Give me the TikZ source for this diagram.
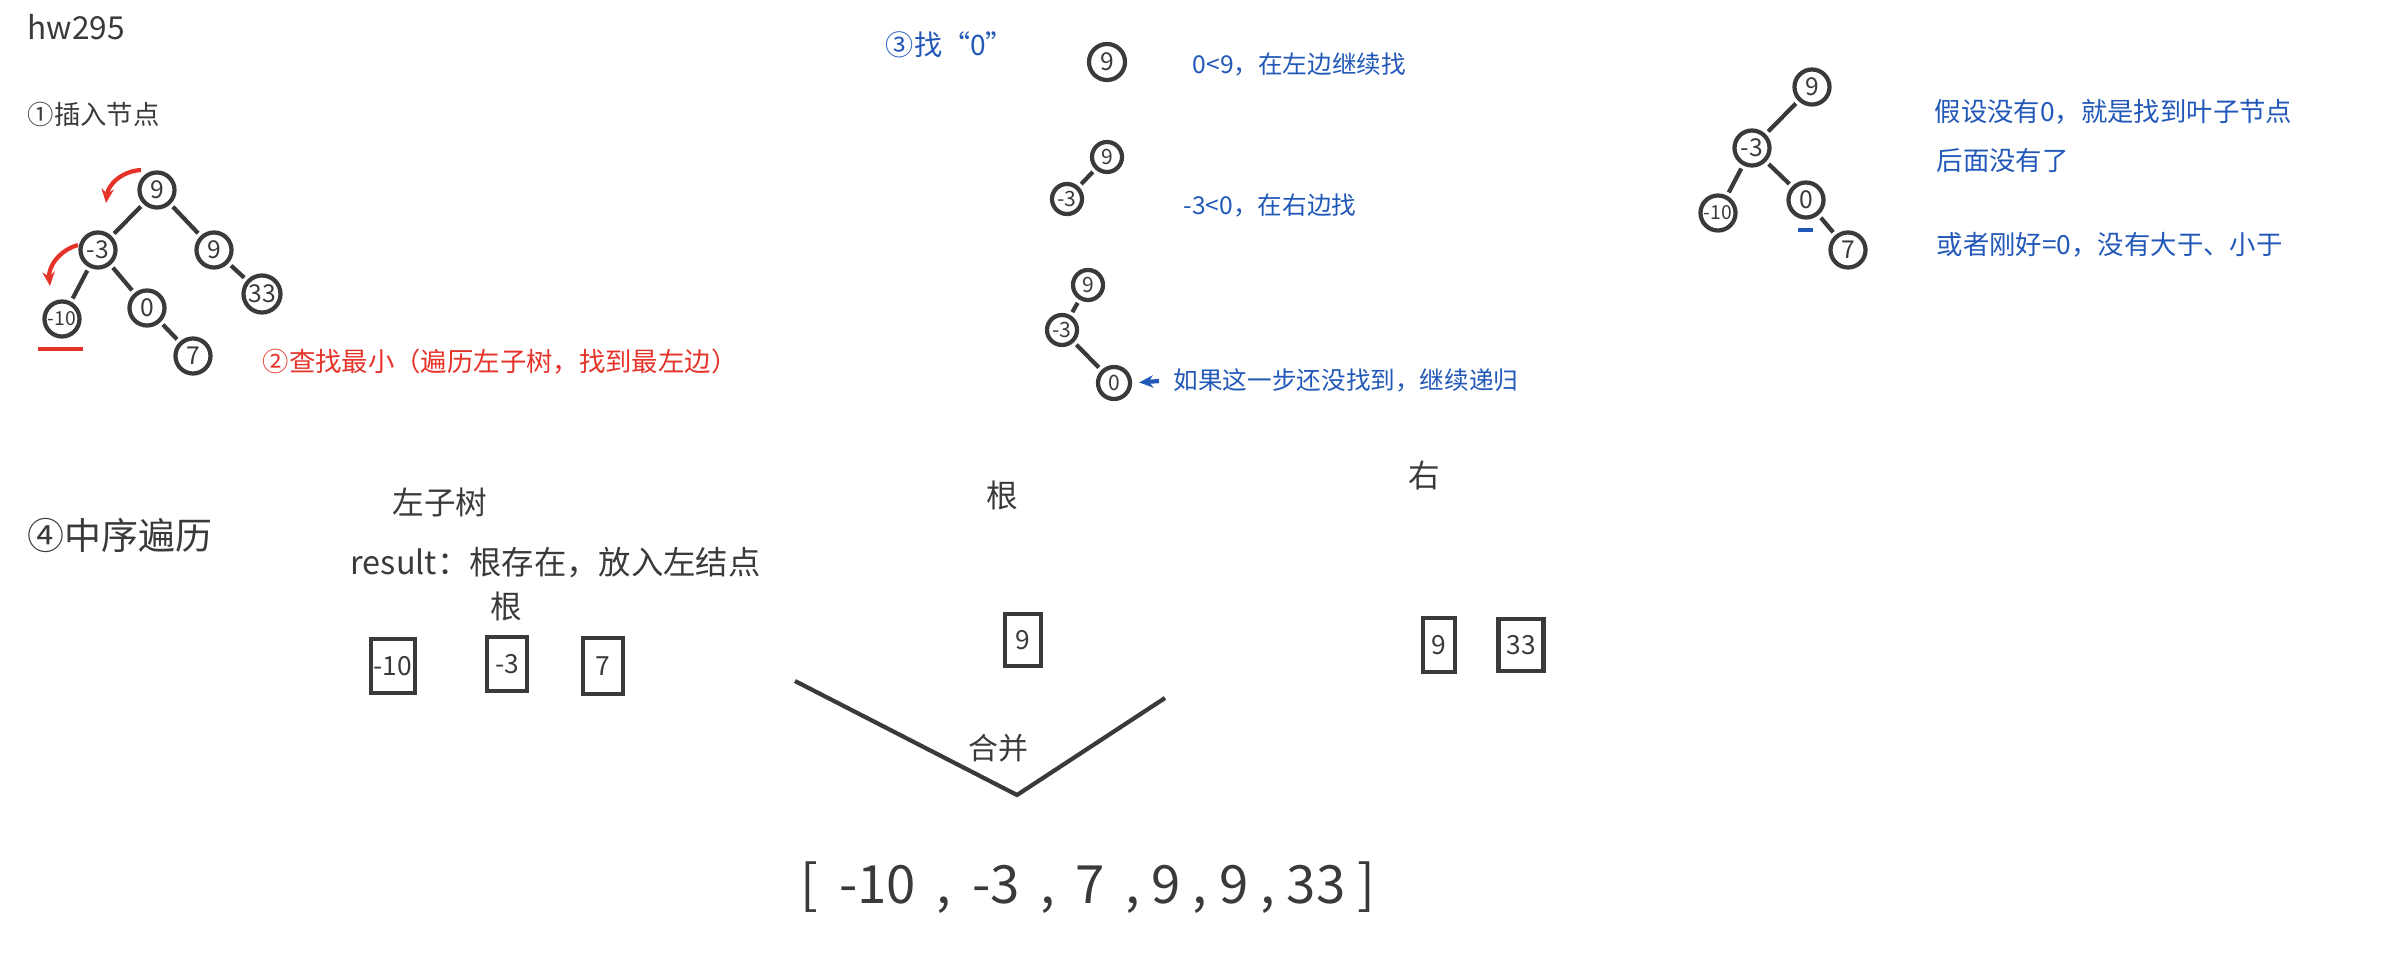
\documentclass[tikz,border=0pt]{standalone}
\usepackage{fontspec}
\setmainfont{Noto Sans CJK SC}
\usetikzlibrary{arrows.meta, positioning}
\definecolor{Ink}  {HTML}{3A3A3A}
\definecolor{InkR} {HTML}{E5332A}
\definecolor{InkB} {HTML}{2258B8}
\tikzset{
  tn/.style={
    circle, draw=Ink, text=Ink, line width=1.2pt,
    minimum size=0.35cm, inner sep=0pt,
    font=\fontsize{7}{7}\selectfont,
  },
  stn/.style={tn, minimum size=0.3cm, font=\fontsize{6}{6}\selectfont},
  sm/.style={font=\fontsize{5.5}{5.5}\selectfont},
  ed/.style={draw=Ink, line width=1.2pt, shorten <=1pt, shorten >=1pt},
  vbox/.style={
    rectangle, draw=Ink, text=Ink, line width=1.2pt,
    inner sep=0pt, font=\fontsize{7.5}{7.5}\selectfont,
  },
  txt/.style args={#1/#2}{
    text=#1, inner sep=0pt, font=\fontsize{#2}{#2}\selectfont,
  },
  arr/.style args={#1}{
    -{Stealth[length=4pt,width=3.5pt]},
    line width=1.2pt, color=#1,
  },
}
\begin{document}
\begin{tikzpicture}[x=0.01cm,y=-0.01cm]
  \useasboundingbox (0,0) rectangle (2388,964);
  \node[txt=Ink/9, anchor=west] (hw) at (27,27) {hw295};
  % 1: insert
  \node[txt=Ink/7.5, anchor=west] (s1) at (27,114) {①插入节点};
  \node[tn] (r1) at (157,190) {9};
  \node[tn] (a1) at ( 98,250) {-3};
  \node[tn] (b1) at (214,250) {9};
  \node[tn, sm] (c1) at ( 62,319) {-10};
  \node[tn] (d1) at (147,308) {0};
  \node[tn, minimum size=0.37cm] (e1) at (262,294) {33};
  \node[tn] (f1) at (193,356) {7};
  \draw[ed] (r1)--(a1);
  \draw[ed] (r1)--(b1);
  \draw[ed] (a1)--(c1);
  \draw[ed] (a1)--(d1);
  \draw[ed] (b1)--(e1);
  \draw[ed] (d1)--(f1);
  % 2: minimum
  \coordinate (ra1) at (141,170);
  \coordinate (rb1) at (106,203);
  \coordinate (ra2) at ( 78,245);
  \coordinate (rb2) at ( 50,286);
  \draw[arr=InkR] (ra1) to[bend right=40] (rb1);
  \draw[arr=InkR] (ra2) to[bend right=40] (rb2);
  \coordinate (ul1) at (38,349);
  \coordinate (ul2) at (83,349);
  \draw[InkR, line width=1.3pt] (ul1)--(ul2);
  \node[txt=InkR/7.5] (s2) at (500,362) {②查找最小（遍历左子树，找到最左边）};
  % 3: find 0
  \node[txt=InkB/8] (s3) at (950,45) {③找“0”};
  \node[tn, minimum size=0.36cm] (p9) at (1107,62) {9};
  \node[txt=InkB/7, anchor=west] (n1) at (1192,64) {0<9，在左边继续找};
  \node[stn] (q9) at (1107,157) {9};
  \node[stn] (q3) at (1067,199) {-3};
  \draw[ed] (q9)--(q3);
  \node[txt=InkB/7, anchor=west] (n2) at (1183,205) {-3<0，在右边找};
  \node[stn] (u9) at (1088,285) {9};
  \node[stn] (u3) at (1062,330) {-3};
  \node[stn, minimum size=0.32cm] (u0) at (1114,383) {0};
  \draw[ed] (u9)--(u3);
  \draw[ed] (u3)--(u0);
  \node[txt=InkB/7, anchor=west] (n3) at (1173,380) {如果这一步还没找到，继续递归};
  \draw[arr=InkB, shorten <=4pt, shorten >=2pt] (n3.west)--(u0.east);
  % right tree
  \node[tn] (v9)  at (1812, 87) {9};
  \node[tn] (v3)  at (1752,148) {-3};
  \node[tn, sm] (v10) at (1718,213) {-10};
  \node[tn] (v0)  at (1806,200) {0};
  \node[tn] (v7)  at (1848,250) {7};
  \draw[ed] (v9)--(v3);
  \draw[ed] (v3)--(v10);
  \draw[ed] (v3)--(v0);
  \draw[ed] (v0)--(v7);
  \coordinate (ub1) at (1798,230);
  \coordinate (ub2) at (1813,230);
  \draw[InkB, line width=1.1pt] (ub1)--(ub2);
  \node[txt=InkB/7.5, anchor=west] (m1) at (1934,112) {假设没有0，就是找到叶子节点};
  \node[txt=InkB/7.5, anchor=west] (m2) at (1936,161) {后面没有了};
  \node[txt=InkB/7.5, anchor=west] (m3) at (1936,245) {或者刚好=0，没有大于、小于};
  % 4: in-order
  \node[txt=Ink/10.5, anchor=west] (s4) at (27,535) {④中序遍历};
  \node[txt=Ink/9] (lt) at (440,502) {左子树};
  \node[txt=Ink/9.2, anchor=west] (res) at (350,563) {result：根存在，放入左结点};
  \node[txt=Ink/9] (lr) at (506,606) {根};
  \node[vbox, minimum width=0.44cm, minimum height=0.54cm] (x10) at (393,666) {-10};
  \node[vbox, minimum width=0.40cm, minimum height=0.54cm] (x3)  at (507,664) {-3};
  \node[vbox, minimum width=0.40cm, minimum height=0.56cm] (x7)  at (603,666) {7};
  \node[txt=Ink/9] (rt) at (1002,495) {根};
  \node[vbox, minimum width=0.36cm, minimum height=0.52cm] (y9)  at (1023,640) {9};
  \node[txt=Ink/9] (rr) at (1424,475) {右};
  \node[vbox, minimum width=0.32cm, minimum height=0.54cm] (z9)  at (1439,645) {9};
  \node[vbox, minimum width=0.45cm, minimum height=0.52cm] (z33) at (1521,645) {33};
  % merge
  \coordinate (vl) at ( 795,681);
  \coordinate (vb) at (1017,795);
  \coordinate (vr) at (1165,698);
  \draw[Ink, line width=1.2pt] (vl)--(vb)--(vr);
  \node[txt=Ink/8.5] (mg) at (998,748) {合并};
  \node[txt=Ink/15] (out) at (1088,888) {[ \,-10\, , \,-3\, , \,7\, , 9 , 9 , 33 ]};
\end{tikzpicture}
\end{document}
